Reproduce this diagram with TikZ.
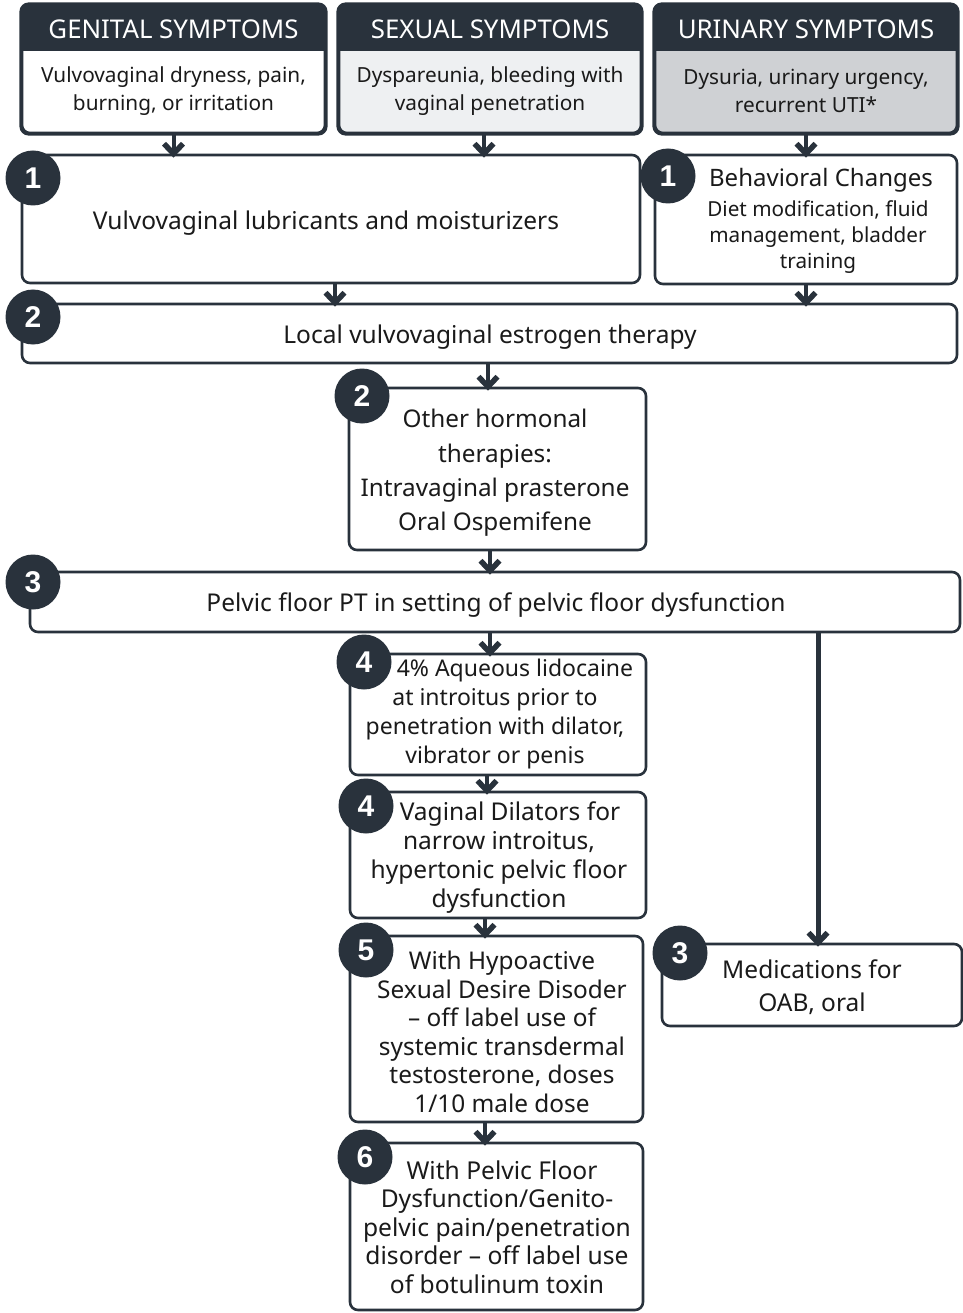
\documentclass[tikz,border=0pt]{standalone}
\usepackage{fontspec}
\setmainfont{Noto Sans}
\newfontfamily\badgefont{Liberation Sans}
\usetikzlibrary{arrows.meta}
\definecolor{dark}{HTML}{29323C}
\definecolor{lightg}{HTML}{EEF0F2}
\definecolor{midg}{HTML}{CFD1D4}
\definecolor{ink}{HTML}{1A1A1A}
\newcommand{\flowarrow}[3][]{%
  \draw[shaft,#1] (#2) -- (#3);
  \draw[chev] ([shift={(-9.5,-10)}]#3) -- (#3) -- ([shift={(9.5,-10)}]#3);
}
\begin{document}
\begin{tikzpicture}[x=1pt,y=-1pt,
  box/.style={draw=dark, line width=2.6pt, rounded corners=8pt, fill=white, inner sep=0pt},
  txt/.style={align=center, inner sep=0pt, text=ink, font=\fontsize{24.5}{29}\selectfont},
  htxt/.style={align=center, inner sep=0pt, text=white, font=\fontsize{25.8}{28}\selectfont},
  stxt/.style={align=center, inner sep=0pt, text=ink, font=\fontsize{20.8}{28}\selectfont},
  num/.style={circle, fill=dark, draw=none, minimum size=55pt, inner sep=0pt, text=white, font=\badgefont\bfseries\fontsize{30}{30}\selectfont},
  shaft/.style={draw=dark, line width=4pt},
  chev/.style={draw=dark, line width=5.5pt, line join=miter, line cap=butt},
]
\useasboundingbox (0,0) rectangle (962,1313);

% header boxes
\node[box, minimum width=303pt, minimum height=128pt] (gen) at (173.5,69) {};
\node[box, fill=lightg, minimum width=302pt, minimum height=128pt] (sex) at (490,69) {};
\node[box, fill=midg, minimum width=302pt, minimum height=128pt] (uri) at (806,69) {};
\foreach \b in {gen,sex,uri}{
  \fill[dark, rounded corners=8pt] (\b.north west) rectangle ([yshift=-47pt]\b.north east);
  \fill[dark] ([yshift=-30pt]\b.north west) rectangle ([yshift=-47pt]\b.north east);
  \draw[dark, line width=2.6pt, rounded corners=8pt] (\b.north west) rectangle (\b.south east);
}
\node[htxt] (genh) at (173.5,29) {GENITAL SYMPTOMS};
\node[htxt] (sexh) at (490,29) {SEXUAL SYMPTOMS};
\node[htxt] (urih) at (806,29) {URINARY SYMPTOMS};
\node[stxt] (gent) at (173.5,91) {Vulvovaginal dryness, pain,\\burning, or irritation};
\node[stxt] (sext) at (490,91) {Dyspareunia, bleeding with\\vaginal penetration};
\node[stxt] (urit) at (806,91) {Dysuria, urinary urgency,\\recurrent UTI*};

% level 1
\node[box, minimum width=618pt, minimum height=128pt] (lub) at (331,219) {};
\node[box, minimum width=302pt, minimum height=129pt] (beh) at (806,219.5) {};
\node[txt] (lubt) at (326,223) {Vulvovaginal lubricants and moisturizers};
\node[txt, font=\fontsize{24}{28}\selectfont] (beht) at (821,180) {Behavioral Changes};
\node[stxt, font=\fontsize{20.7}{26}\selectfont] (behb) at (818,237) {Diet modification, fluid\\management, bladder\\training};

% level 2
\node[box, minimum width=935pt, minimum height=59pt] (est) at (489.5,333.5) {};
\node[txt] (estt) at (490,337) {Local vulvovaginal estrogen therapy};
\node[box, minimum width=297pt, minimum height=162pt] (oth) at (497.5,469) {};
\node[txt, font=\fontsize{24.3}{34.3}\selectfont] (otht) at (495,473) {Other hormonal\\therapies:\\Intravaginal prasterone\\Oral Ospemifene};

% level 3
\node[box, minimum width=930pt, minimum height=60pt] (pf) at (495,602) {};
\node[txt] (pft) at (496,605.5) {Pelvic floor PT in setting of pelvic floor dysfunction};

% level 4-6
\node[box, minimum width=296pt, minimum height=121pt] (b4a) at (498,714.5) {};
\node[txt, font=\fontsize{23}{29}\selectfont] (b4at) at (495,714) {\hspace*{40pt}4\% Aqueous lidocaine\\at introitus prior to\\penetration with dilator,\\vibrator or penis};
\node[box, minimum width=296pt, minimum height=126pt] (b4b) at (498,855) {};
\node[txt] (b4bt) at (499,858) {\hspace*{22pt}Vaginal Dilators for\\narrow introitus,\\hypertonic pelvic floor\\dysfunction};
\node[box, minimum width=293pt, minimum height=186pt] (b5) at (496.5,1029) {};
\node[txt, font=\fontsize{24.4}{28.5}\selectfont] (b5t) at (502,1032) {With Hypoactive\\Sexual Desire Disoder\\– off label use of\\systemic transdermal\\testosterone, doses\\1/10 male dose};
\node[box, minimum width=293pt, minimum height=167pt] (b6) at (496.5,1226.5) {};
\node[txt, font=\fontsize{24.6}{28.5}\selectfont] (b6t) at (497,1227) {\hspace*{10pt}With Pelvic Floor\\Dysfunction/Genito-\\pelvic pain/penetration\\disorder – off label use\\of botulinum toxin};

% medications
\node[box, minimum width=300pt, minimum height=82pt] (med) at (812,985) {};
\node[txt, font=\fontsize{24.5}{33}\selectfont] (medt) at (812,987) {Medications for\\OAB, oral};

% connector end points
\coordinate (s1) at (gen.south);            \coordinate (e1) at (s1 |- lub.north);
\coordinate (s2) at ([xshift=-6pt]sex.south); \coordinate (e2) at (s2 |- lub.north);
\coordinate (s3) at (uri.south);            \coordinate (e3) at (s3 |- beh.north);
\coordinate (s4) at ([xshift=4pt]lub.south);  \coordinate (e4) at (s4 |- est.north);
\coordinate (s5) at (beh.south);            \coordinate (e5) at (s5 |- est.north);
\coordinate (s6) at ([xshift=-1.5pt]est.south); \coordinate (e6) at (s6 |- oth.north);
\coordinate (s7) at ([xshift=-7.5pt]oth.south); \coordinate (e7) at (s7 |- pf.north);
\coordinate (e8) at ([xshift=-8pt]b4a.north); \coordinate (s8) at (e8 |- pf.south);
\coordinate (s9) at ([xshift=-11pt]b4a.south); \coordinate (e9) at (s9 |- b4b.north);
\coordinate (s10) at ([xshift=-13pt]b4b.south); \coordinate (e10) at (s10 |- b5.north);
\coordinate (s11) at ([xshift=-11.5pt]b5.south); \coordinate (e11) at (s11 |- b6.north);
\coordinate (e12) at ([xshift=6pt]med.north); \coordinate (s12) at (e12 |- pf.south);

% connectors
\flowarrow{s1}{e1}
\flowarrow{s2}{e2}
\flowarrow{s3}{e3}
\flowarrow{s4}{e4}
\flowarrow{s5}{e5}
\flowarrow{s6}{e6}
\flowarrow{s7}{e7}
\flowarrow{s8}{e8}
\flowarrow{s9}{e9}
\flowarrow{s10}{e10}
\flowarrow{s11}{e11}
\flowarrow[line width=5pt]{s12}{e12}

% number badges
\node[num] (n1a) at (33,178) {1};
\node[num] (n1b) at (668,176) {1};
\node[num] (n2a) at (33,317) {2};
\node[num] (n2b) at (362,396) {2};
\node[num] (n3a) at (33,582) {3};
\node[num] (n4a) at (364,662) {4};
\node[num] (n4b) at (366,806) {4};
\node[num] (n5) at (366,950) {5};
\node[num] (n6) at (365,1157) {6};
\node[num] (n3b) at (680,953) {3};
\end{tikzpicture}
\end{document}
